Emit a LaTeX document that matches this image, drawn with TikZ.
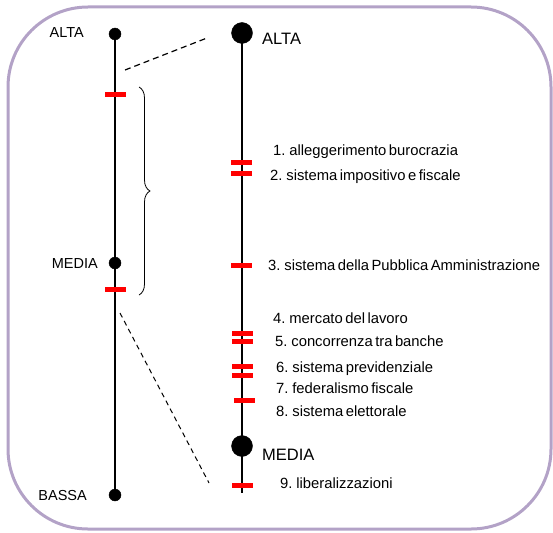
\documentclass[tikz,border=0pt]{standalone}
\usepackage{fontspec}
\setmainfont{Liberation Sans}
\newfontfamily\vocifont{Liberation Sans}[WordSpace=0.6]
\usepackage{tikz}
\usetikzlibrary{decorations.pathreplacing}
\definecolor{lilla}{RGB}{179,162,199}

\tikzset{
  scala/.style={line width=2.5pt},
  tacca/.style={fill=red, inner sep=0pt, minimum width=21pt, minimum height=5pt},
  voce/.style={anchor=base west, inner sep=0pt, font=\vocifont\fontsize{14.8}{16}\selectfont},
  livello/.style={anchor=base east, inner sep=0pt, font=\fontsize{14.5}{16}\selectfont},
  grande/.style={anchor=base west, inner sep=0pt, font=\fontsize{16.5}{18}\selectfont},
}

\begin{document}
\begin{tikzpicture}[x=1pt,y=-1pt]
        \useasboundingbox (0,0) rectangle (553,532);
        \draw[lilla, line width=3pt, rounded corners=80pt] (8,7) rectangle (551,529);

        % scala di sinistra
        \coordinate (altaS) at (115,34);
        \coordinate (mediaS) at (115,263);
        \coordinate (bassaS) at (115,495);
        \draw[scala] (altaS) -- (bassaS);
        \filldraw (altaS) circle (6pt);
        \filldraw (mediaS) circle (6pt);
        \filldraw (bassaS) circle (6pt);
        \node[livello] (lAltaS) at (84,38) {ALTA};
        \node[livello] (lMediaS) at (98,268) {MEDIA};
        \node[livello] (lBassaS) at (87,500) {BASSA};
        \node[tacca] (tS1) at (115.5,95) {};
        \node[tacca] (tS2) at (115,289) {};
        \draw[decorate, decoration={brace, amplitude=11pt}, line width=0.8pt] (139,87) -- (139,295);

        % scala di destra
        \coordinate (altaD) at (242,33);
        \coordinate (mediaD) at (242,446);
        \coordinate (fineD) at (242,493);
        \draw[scala] (altaD) -- (fineD);
        \filldraw (altaD) circle (10.5pt);
        \filldraw (mediaD) circle (10.5pt);
        \node[grande] (lAltaD) at (262,45) {ALTA};
        \node[grande] (lMediaD) at (262,460) {MEDIA};

        \node[tacca] (t1) at (241.5,162) {};
        \node[tacca] (t2) at (241.5,173) {};
        \node[tacca] (t3) at (241.5,265) {};
        \node[tacca] (t4) at (242.5,333) {};
        \node[tacca] (t5) at (242.5,341) {};
        \node[tacca] (t6) at (242.5,366) {};
        \node[tacca] (t7) at (242.5,375) {};
        \node[tacca] (t8) at (244.5,400) {};
        \node[tacca] (t9) at (242.5,485) {};

        \node[voce] (v1) at (273,155) {1. alleggerimento burocrazia};
        \node[voce] (v2) at (270,180) {2. sistema impositivo e fiscale};
        \node[voce] (v3) at (268,270) {3. sistema della Pubblica Amministrazione};
        \node[voce] (v4) at (273,323) {4. mercato del lavoro};
        \node[voce] (v5) at (275,346) {5. concorrenza tra banche};
        \node[voce] (v6) at (276,372) {6. sistema previdenziale};
        \node[voce] (v7) at (276,393) {7. federalismo fiscale};
        \node[voce] (v8) at (276,416) {8. sistema elettorale};
        \node[voce] (v9) at (280,488) {9. liberalizzazioni};

        % raccordi tratteggiati
        \coordinate (zoomA) at (125,70);
        \coordinate (zoomB) at (207,38);
        \coordinate (zoomC) at (120,313);
        \coordinate (zoomD) at (209,483);
        \draw[line width=1.2pt, dash pattern=on 6pt off 4pt] (zoomA) -- (zoomB);
        \draw[line width=1pt, dash pattern=on 5pt off 4pt] (zoomC) -- (zoomD);
      \end{tikzpicture}
\end{document}
